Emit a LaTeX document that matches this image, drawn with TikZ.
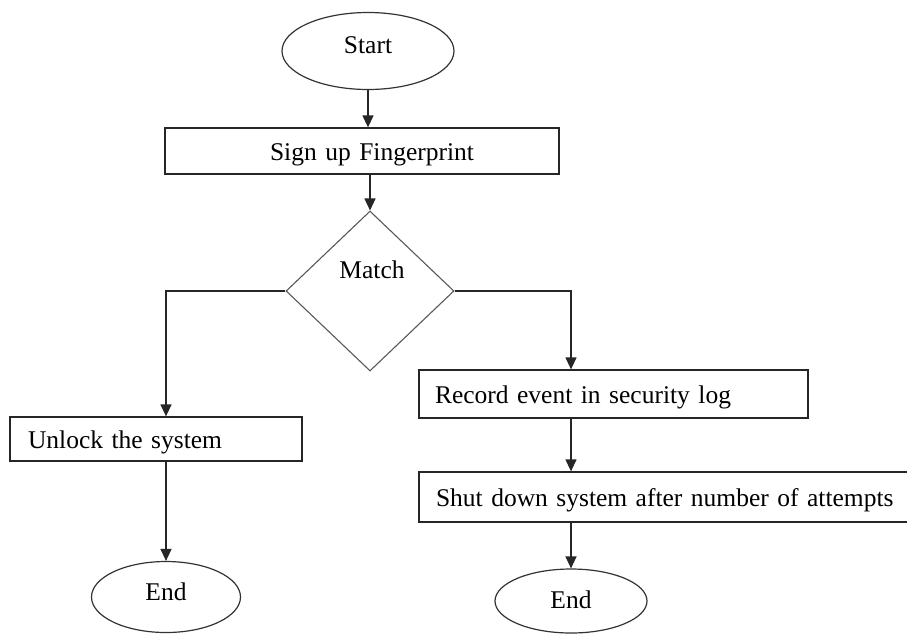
\documentclass[tikz,border=0pt]{standalone}
\usepackage{fontspec}
\setmainfont{Liberation Serif}
\usetikzlibrary{shapes.geometric,arrows.meta}
\begin{document}
\begin{tikzpicture}[x=1pt,y=-1pt,
  every node/.style={font=\fontsize{25.5}{30}\selectfont, text=black},
  box/.style={draw=black!85, line width=1.3pt, rectangle, inner ysep=0pt, text height=23pt, text depth=5pt},
  term/.style={draw=black!80, line width=1.2pt, ellipse, inner sep=0pt},
  dia/.style={draw=black!65, line width=1.1pt, diamond, inner sep=0pt},
  txt/.style={inner sep=0pt},
  arr/.style={draw=black!85, line width=1.3pt, -{Triangle[width=11pt,length=12pt]}}
]
\clip (0,0) rectangle (907,633);
\fill[white] (0,0) rectangle (907,633);

\node[term, minimum width=172pt, minimum height=77pt, text depth=12pt] (start) at (368,51) {Start};
\node[box, text width=374pt, inner xsep=10pt, align=center, minimum height=46pt] (signup) at (362,151) {\hspace*{20pt}Sign up Fingerprint};
\node[dia, minimum width=168pt, minimum height=160pt] (match) at (370,291) {};
\node[txt] (matchtxt) at (372,270) {Match};
\node[box, text width=256pt, inner xsep=18pt, align=left, minimum height=44pt] (unlock) at (156,439) {Unlock the system};
\node[box, text width=357pt, inner xsep=16pt, align=left, minimum height=48pt] (record) at (613.5,394) {Record event in security log};
\node[box, text width=526pt, inner xsep=17pt, align=left, minimum height=50pt] (shut) at (699,497) {Shut down system after number of attempts};
\node[term, minimum width=149pt, minimum height=71pt, text depth=10pt] (endL) at (166,597) {End};
\node[term, minimum width=152pt, minimum height=64pt, text depth=2pt] (endR) at (571,601) {End};

\draw[arr] (start.south) -- (start.south |- signup.north);
\draw[arr] (match.north |- signup.south) -- (match.north);
\draw[arr] (match.west) -| (unlock.north -| endL.north);
\draw[arr] (endL.north |- unlock.south) -- (endL.north);
\draw[arr] (match.east) -| (record.north -| endR.north);
\draw[arr] (endR.north |- record.south) -- (endR.north |- shut.north);
\draw[arr] (endR.north |- shut.south) -- (endR.north);
\end{tikzpicture}
\end{document}
